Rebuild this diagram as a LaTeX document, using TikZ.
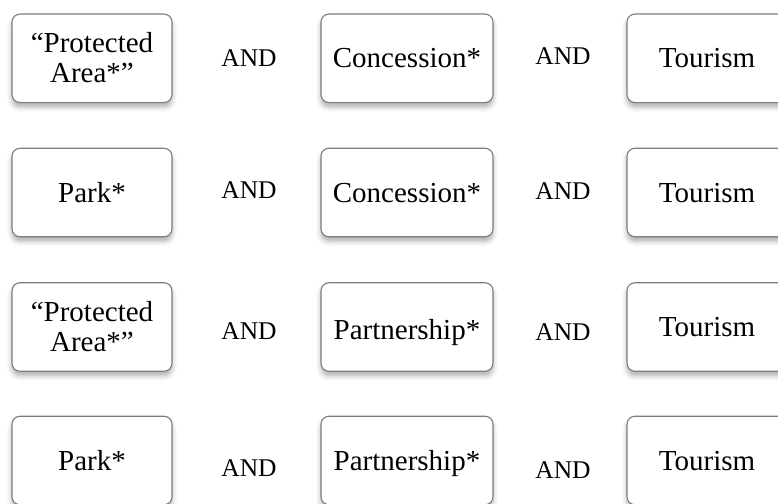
\documentclass[tikz,border=0pt]{standalone}
\usepackage{fontspec}
\setmainfont{Liberation Serif}
\usetikzlibrary{shadows.blur}
\definecolor{boxgray}{RGB}{125,125,125}
% two centred lines, first baseline as the box baseline
\newcommand{\stackedterm}[2]{\vtop{\baselineskip=30pt\lineskiplimit=-20pt
  \halign{\hfil##\hfil\cr #1\cr #2\cr}}}
\begin{document}
\begin{tikzpicture}[x=1pt,y=-1pt,
  termbox/.style={draw=boxgray, line width=1.1pt, fill=white,
    rounded corners=8pt, minimum height=88.5pt, inner sep=0pt,
    font=\fontsize{29}{30}\selectfont,
    text height=19.2pt, text depth=0pt,
    blur shadow={shadow xshift=0pt, shadow yshift=-4.5pt,
      shadow blur radius=5pt, shadow opacity=32}},
  narrowbox/.style={termbox, minimum width=160pt},
  widebox/.style={termbox, minimum width=172pt},
  twoline/.style={text height=19.2pt, text depth=30pt},
  andlabel/.style={font=\fontsize{25.5}{27}\selectfont, inner sep=0pt,
    text height=17pt, text depth=0pt}]
\useasboundingbox (0,0) rectangle (778,503);
\clip (0,0) rectangle (778,503);

% row 1
\node[narrowbox, twoline] (pa1) at (92,58.3) {\stackedterm{“Protected}{Area*”}};
\node[andlabel] (and11) at (249,58) {AND};
\node[widebox] (con1) at (407,58.3) {Concession*};
\node[andlabel] (and12) at (563,56) {AND};
\node[narrowbox] (tou1) at (707,58.3) {Tourism};

% row 2
\node[narrowbox] (park2) at (92,192.5) {Park*};
\node[andlabel] (and21) at (249,190) {AND};
\node[widebox] (con2) at (407,192.5) {Concession*};
\node[andlabel] (and22) at (563,191) {AND};
\node[narrowbox] (tou2) at (707,192.5) {Tourism};

% row 3
\node[narrowbox, twoline] (pa3) at (92,327) {\stackedterm{“Protected}{Area*”}};
\node[andlabel] (and31) at (249,331) {AND};
\node[widebox, text height=25pt] (par3) at (407,327) {Partnership*};
\node[andlabel] (and32) at (563,332) {AND};
\node[narrowbox] (tou3) at (707,327) {Tourism};

% row 4
\node[narrowbox] (park4) at (92,460.5) {Park*};
\node[andlabel] (and41) at (249,468) {AND};
\node[widebox] (par4) at (407,460.5) {Partnership*};
\node[andlabel] (and42) at (563,470) {AND};
\node[narrowbox] (tou4) at (707,460.5) {Tourism};
\end{tikzpicture}
\end{document}
